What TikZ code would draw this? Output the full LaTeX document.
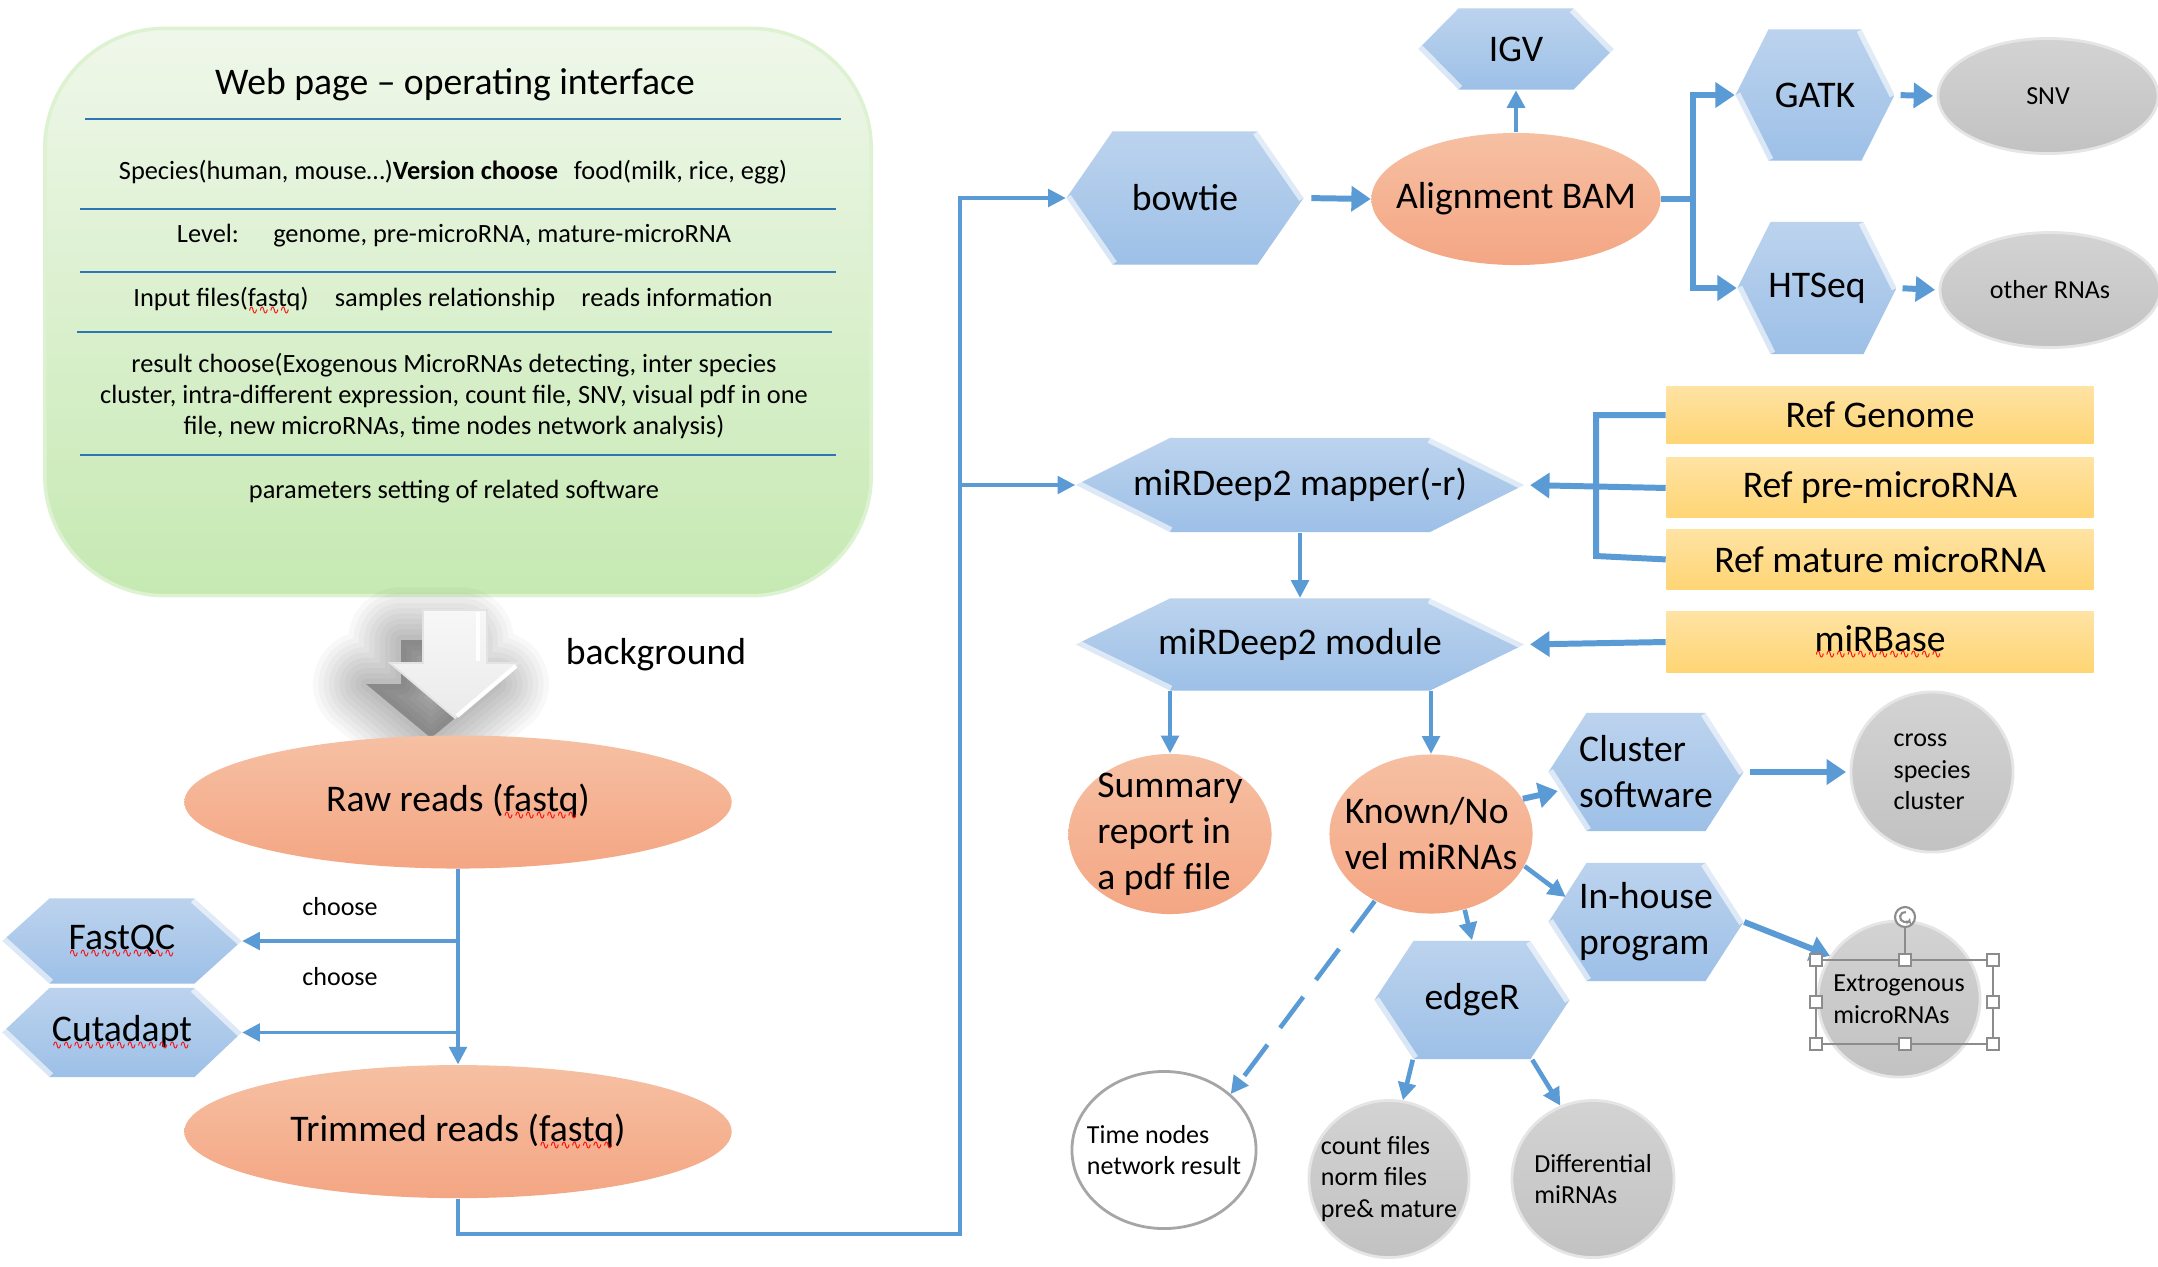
\documentclass[tikz,border=0pt]{standalone}
\usepackage{fontspec}
\setmainfont{Carlito}
\newfontfamily\wavefont{DejaVu Sans}
\usetikzlibrary{positioning,shapes.geometric,arrows.meta}
\definecolor{arrowblue}{HTML}{5B9BD5}
\definecolor{lineblue}{HTML}{2E75B6}
\definecolor{hextop}{HTML}{BCD3EE}
\definecolor{hexbot}{HTML}{9DC0E7}
\definecolor{salmontop}{HTML}{F6C0A3}
\definecolor{salmonbot}{HTML}{F4A683}
\definecolor{balltop}{HTML}{D3D3D3}
\definecolor{ballbot}{HTML}{C2C2C2}
\definecolor{yelltop}{HTML}{FFE3A3}
\definecolor{yellbot}{HTML}{FFD574}
\definecolor{greentop}{HTML}{EFF7EA}
\definecolor{greenbot}{HTML}{C6E9B2}
\definecolor{handlegray}{HTML}{8C8C8C}
\newcommand{\lblbig}{\fontsize{10.7}{13.1}\selectfont}
\newcommand{\lblsmall}{\fontsize{7.4}{9}\selectfont}
\newcommand{\lblbody}{\fontsize{7.5}{8.8}\selectfont}
\newcommand{\spellwave}[1]{\setbox0\hbox{#1}\rlap{\copy0}\raisebox{-2.2pt}{\textcolor{red}{\hbox to \wd0{\leaders\hbox{\wavefont\fontsize{3.6}{4}\selectfont ∿}\hfil}}}}
\tikzset{
    % Stile per i connettori
    flow/.style={draw=arrowblue, line width=1pt, -{Triangle[length=5pt,width=5pt]}},
    flowbold/.style={flow, line width=1.7pt, -{Triangle[length=5.5pt,width=7pt]}},
    % Stile per i blocchi software (esagono)
    hex slant/.store in=\hexslant, hex slant=0.4cm,
    hexbox/.style={rectangle, inner sep=0pt, align=center, font=\lblbig,
        path picture={
            \shade[top color=hextop, bottom color=hexbot]
                (path picture bounding box.west)
                -- ([xshift=\hexslant]path picture bounding box.north west)
                -- ([xshift=-\hexslant]path picture bounding box.north east)
                -- (path picture bounding box.east)
                -- ([xshift=-\hexslant]path picture bounding box.south east)
                -- ([xshift=\hexslant]path picture bounding box.south west) -- cycle;
            \draw[white, opacity=0.6, line width=3pt]
                ([xshift=-\hexslant]path picture bounding box.north east) -- (path picture bounding box.east);
            \draw[white, opacity=0.6, line width=3pt]
                ([xshift=\hexslant]path picture bounding box.south west) -- (path picture bounding box.west);
        }},
    % Stile per i dati (ellisse salmone)
    dataell/.style={ellipse, inner sep=0pt, align=center, font=\lblbig,
        top color=salmontop, bottom color=salmonbot},
    % Stile per i risultati (ellisse grigia)
    resball/.style={ellipse, inner sep=0pt, top color=balltop, bottom color=ballbot,
        draw=white!80!gray, line width=0.8pt},
    % Stile per i riferimenti (rettangolo giallo)
    refbox/.style={rectangle, inner sep=0pt, minimum width=4.27cm, minimum height=0.6cm,
        font=\lblbig, top color=yelltop, bottom color=yellbot},
    webbox/.style={rectangle, rounded corners=1.2cm, top color=greentop, bottom color=greenbot,
        draw=greenbot!60!white, line width=1pt, minimum width=8.26cm, minimum height=5.67cm},
    webtext/.style={font=\lblbody, align=center, inner sep=0pt},
    txtbig/.style={font=\lblbig, align=left, inner sep=0pt},
    txtsmall/.style={font=\lblsmall, align=left, inner sep=0pt},
    sepline/.style={draw=lineblue, line width=0.7pt}
}
\begin{document}
\begin{tikzpicture}[x=0.01cm, y=-0.01cm]
    \fill[white] (0,0) rectangle (2158,1266);
    \useasboundingbox (0,0) rectangle (2158,1266);

    % pannello web
    \node[webbox] (web) at (458,312) {};
    \node[font=\fontsize{10.7}{12}\selectfont, inner sep=0pt] (webtitle) at (455,85)
        {Web page \textendash\ operating interface};
    \node[webtext] (species) at (453,172)
        {Species(human, mouse…)\textbf{Version choose}\hspace{0.6em}food(milk, rice, egg)};
    \node[webtext] (level) at (454,236) {Level:\hspace{1.3em}genome, pre-microRNA, mature-microRNA};
    \node[webtext] (input) at (453,301)
        {Input files(\spellwave{fastq})\hspace{1em}samples relationship\hspace{1em}reads information};
    \node[webtext] (result) at (454,396)
        {result choose(Exogenous MicroRNAs detecting, inter species\\
         cluster, intra-different expression, count file, SNV, visual pdf in one\\
         file, new microRNAs, time nodes network analysis)};
    \node[webtext] (params) at (454,492) {parameters setting of related software};
    \foreach \ya/\xa/\xb in {119/85/841, 209/80/836, 272/80/836, 332/77/832, 455/80/836}
        \draw[sepline] (\xa,\ya) -- (\xb,\ya);

    % freccia "background"
    \foreach \w in {30,27,...,3}
        \filldraw[black, fill opacity=0.028, draw opacity=0.028, line width=\w pt, line join=round,
            shift={(-24,20)}]
            (425,620) -- (485,620) -- (485,664) -- (520,664) -- (455,718) -- (390,664) -- (425,664) -- cycle;
    \shadedraw[top color=gray!6, bottom color=gray!16, draw=gray!22, line width=0.5pt]
        (423,610) -- (487,610) -- (487,663) -- (519,663) -- (455,718) -- (390,663) -- (423,663) -- cycle;
    \draw[white, line width=1.2pt] (478,612) -- (478,661);
    \draw[white, line width=1.2pt] (516,666) -- (457,716);
    \node[txtbig] (bglabel) at (656,655) {background};

    % preprocessing
    \node[dataell, minimum width=5.47cm, minimum height=1.33cm] (raw) at (458,802)
        {Raw reads (\spellwave{fastq})};
    \node[dataell, minimum width=5.47cm, minimum height=1.33cm, below=1.95cm of raw] (trimmed)
        {Trimmed reads (\spellwave{fastq})};
    \node[hexbox, minimum width=2.39cm, minimum height=0.85cm, hex slant=0.47cm] (fastqc) at (122,941)
        {\spellwave{FastQC}};
    \node[hexbox, minimum width=2.39cm, minimum height=0.89cm, hex slant=0.47cm, below=0.03cm of fastqc]
        (cutadapt) {\spellwave{Cutadapt}};
    \node[txtsmall] (choose1) at (340,907) {choose};
    \node[txtsmall] (choose2) at (340,977) {choose};
    \draw[flow] (raw.south) -- (trimmed.north);
    \draw[flow] (fastqc.east -| raw.south) -- (fastqc.east);
    \draw[flow] (cutadapt.east -| raw.south) -- (cutadapt.east);

    % allineamento
    \node[hexbox, minimum width=2.37cm, minimum height=1.33cm, hex slant=0.46cm] (bowtie) at (1185,198) {bowtie};
    \node[dataell, minimum width=2.89cm, minimum height=1.32cm] (bam) at (1516,199) {};
    \node[txtbig] (bam-t) at (bam) {Alignment BAM};
    \node[hexbox, minimum width=1.95cm, minimum height=0.81cm, hex slant=0.40cm] (igv) at (1516,49) {IGV};
    \node[hexbox, minimum width=1.59cm, minimum height=1.31cm, hex slant=0.33cm] (gatk) at (1815,95) {GATK};
    \node[hexbox, minimum width=1.59cm, minimum height=1.32cm, hex slant=0.33cm] (htseq) at (1817,288) {HTSeq};
    \node[resball, minimum width=2.2cm, minimum height=1.15cm] (snv) at (2048,96) {};
    \node[txtsmall] (snv-t) at (snv) {SNV};
    \node[resball, minimum width=2.2cm, minimum height=1.15cm] (other) at (2050,290) {};
    \node[txtsmall] (other-t) at (other) {other RNAs};

    % miRDeep2
    \node[hexbox, minimum width=4.48cm, minimum height=0.94cm, hex slant=0.94cm] (mapper) at (1300,485)
        {miRDeep2 mapper(-r)};
    \node[hexbox, minimum width=4.48cm, minimum height=0.92cm, hex slant=0.94cm, below=0.65cm of mapper]
        (module) {miRDeep2 module};
    \node[refbox, minimum height=0.57cm] (refgen) at (1880,415) {Ref Genome};
    \node[refbox, below=0.13cm of refgen] (refpre) {Ref pre-microRNA};
    \node[refbox, below=0.10cm of refpre] (refmat) {Ref mature microRNA};
    \node[refbox] (mirbase) at (1880,642) {\spellwave{miRBase}};

    \coordinate (trunk) at (960,1234);
    \coordinate (fork) at (1693,199);
    \draw[flow] (trimmed.south) |- (trunk) |- (bowtie.west);
    \draw[flow] (trunk |- mapper.west) -- (mapper.west);
    \draw[flowbold, shorten <=2pt] (bowtie.east) -- (bam.west);
    \draw[flow, line width=1.3pt] (bam.north) -- (igv.south);
    \draw[flowbold] (bam.east) -- (fork) |- (gatk.west);
    \draw[flowbold] (fork) |- (htseq.west);
    \draw[flowbold, shorten <=1.5pt, shorten >=1pt] (gatk.east) -- (snv.west);
    \draw[flowbold, shorten <=1.5pt, shorten >=1pt] (htseq.east) -- (other.west);
    \draw[draw=arrowblue, line width=1.7pt] (refgen.west) -| (1596,556) -- (refmat.west);
    \draw[flowbold, shorten >=1.5pt] (refpre.west) -- (mapper.east);
    \draw[flowbold, shorten >=1.5pt] (mirbase.west) -- (module.east);
    \draw[flow] (mapper.south) -- (module.north);

    % risultati
    \node[dataell, minimum width=2.03cm, minimum height=1.60cm] (summary) at (1170,834) {};
    \node[txtbig] (summary-t) at (summary) {Summary\\report in\\a pdf file};
    \node[dataell, minimum width=2.03cm, minimum height=1.59cm] (known) at (1431,834) {};
    \node[txtbig] (known-t) at (known) {Known/No\\vel miRNAs};
    \node[hexbox, minimum width=1.95cm, minimum height=1.18cm, hex slant=0.38cm, align=left] (cluster)
        at (1646,772) {Cluster\\software};
    \node[hexbox, minimum width=1.95cm, minimum height=1.18cm, hex slant=0.38cm, align=left] (inhouse)
        at (1646,922) {In-house\\program};
    \node[hexbox, minimum width=1.95cm, minimum height=1.18cm, hex slant=0.39cm] (edger) at (1472,1000) {edgeR};
    \node[resball, minimum width=1.62cm, minimum height=1.60cm] (cross) at (1932,772) {};
    \node[txtsmall] (cross-t) at (cross) {cross\\species\\cluster};
    \node[resball, minimum width=1.62cm, minimum height=1.56cm] (extro) at (1899,999) {};
    \node[txtsmall] (extro-t) at (extro) {Extrogenous\\microRNAs};
    \node[ellipse, draw=gray!70, line width=0.8pt, fill=white, minimum width=1.84cm, minimum height=1.57cm]
        (timenet) at (1164,1150) {};
    \node[txtsmall] (timenet-t) at (timenet) {Time nodes\\network result};
    \node[resball, minimum width=1.60cm, minimum height=1.57cm] (count) at (1389,1179) {};
    \node[txtsmall] (count-t) at (count) {count files\\norm files\\pre\& mature};
    \node[resball, minimum width=1.62cm, minimum height=1.57cm] (diff) at (1593,1179) {};
    \node[txtsmall] (diff-t) at (diff) {Differential\\miRNAs};
    \draw[flow] (module.south -| summary.north) -- (summary.north);
    \draw[flow] (module.south -| known.north) -- (known.north);
    \draw[flowbold] (known.21) -- ([shift={(10,19)}]cluster.west);
    \draw[flow, line width=1.3pt] (known.-19) -- ([shift={(18,-25)}]inhouse.west);
    \draw[flow, line width=1.3pt] (known.-66) -- (edger.north);
    \draw[flow, line width=1.3pt, dash pattern=on 11pt off 6pt] (known.-130) -- (timenet.40);
    \draw[flowbold, shorten <=1.5pt, shorten >=1pt] (cluster.east) -- (cross.west);
    \draw[flowbold] (inhouse.east) -- (extro.148);
    \draw[flow, line width=1.3pt] ([shift={(39,0)}]edger.south west) -- (count.80);
    \draw[flow, line width=1.3pt] ([shift={(-38,0)}]edger.south east) -- (diff.114);

    % maniglie di selezione
    \draw[handlegray, line width=0.6pt] (1816,960) rectangle (1993,1044);
    \draw[handlegray, line width=0.6pt] (1905,960) -- (1905,927);
    \foreach \hx/\hy in {1816/960,1905/960,1993/960,1816/1002,1993/1002,1816/1044,1905/1044,1993/1044}
        \draw[handlegray, fill=white, line width=0.5pt] (\hx-6,\hy-6) rectangle (\hx+6,\hy+6);
    \draw[handlegray, fill=white, line width=0.6pt] (1905,917) circle (0.1cm);
    \draw[handlegray, line width=0.6pt, -{Stealth[length=2pt]}] (1905,917) ++(80:0.05cm) arc (80:350:0.05cm);
\end{tikzpicture}
\end{document}
